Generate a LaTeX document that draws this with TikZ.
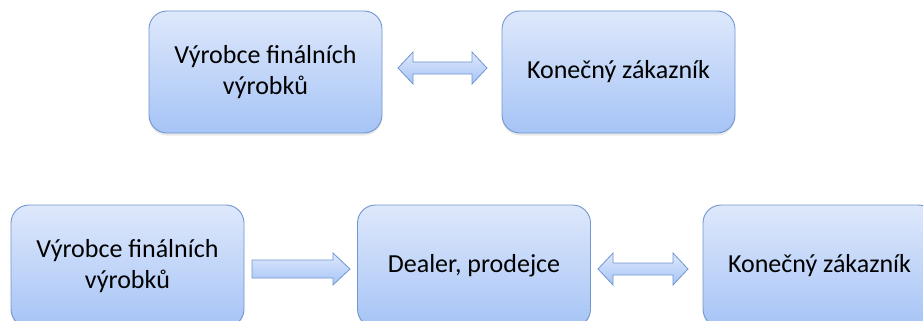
\documentclass[tikz,border=0pt]{standalone}
\usepackage{fontspec}
\setmainfont{Carlito}
\usetikzlibrary{shadows}
\definecolor{boxtop}{RGB}{222,232,251}
\definecolor{boxbot}{RGB}{166,196,246}
\definecolor{boxline}{RGB}{112,150,208}
\tikzset{
  stagebox/.style={rectangle, rounded corners=18pt, draw=boxline, line width=0.9pt,
    top color=boxtop, bottom color=boxbot, minimum width=233pt, minimum height=122pt,
    align=center, font=\fontsize{26}{31}\selectfont, text=black,
    drop shadow={opacity=0.18, shadow xshift=0pt, shadow yshift=-2.5pt}},
  blockarrow/.style={draw=boxline, line width=0.8pt, top color=boxtop, bottom color=boxbot,
    line join=miter}
}
\begin{document}
\begin{tikzpicture}[x=1pt,y=-1pt]
\useasboundingbox (0,0) rectangle (923,321);
\clip (0,0) rectangle (923,321);
% upper chain
\node[stagebox] (vyr1) at (265.5,72) {Výrobce finálních\\výrobků};
\node[stagebox] (zak1) at (618.5,72) {Konečný zákazník};
% lower chain
\node[stagebox] (vyr2) at (127.5,266) {Výrobce finálních\\výrobků};
\node[stagebox] (deal) at (474,266) {Dealer, prodejce};
\node[stagebox] (zak2) at (819.5,266) {Konečný zákazník};
% double block arrow between the upper boxes
\path[blockarrow]
  (398,68) -- (413,52) -- (413,62) -- (472,62) -- (472,52) -- (487,68)
  -- (472,84) -- (472,74) -- (413,74) -- (413,84) -- cycle;
% single block arrow from producer to dealer
\path[blockarrow]
  (252,260) -- (333,260) -- (333,253) -- (350,269) -- (333,285) -- (333,278)
  -- (252,278) -- cycle;
% double block arrow between dealer and customer
\path[blockarrow]
  (598,269) -- (613,253) -- (613,263) -- (673,263) -- (673,253) -- (688,269)
  -- (673,285) -- (673,275) -- (613,275) -- (613,285) -- cycle;
\end{tikzpicture}
\end{document}
